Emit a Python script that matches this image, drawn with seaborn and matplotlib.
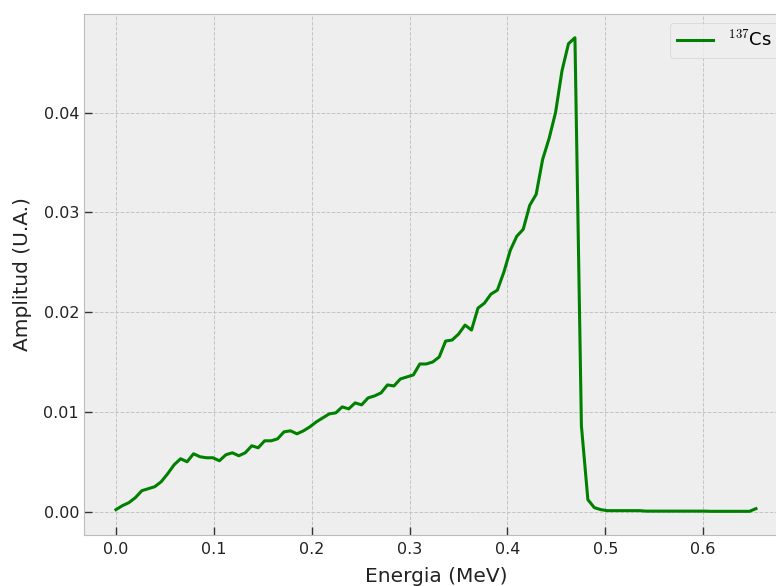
import numpy as np
import matplotlib
matplotlib.use("Agg")
import matplotlib.pyplot as plt
import seaborn as sns

# 100 energy bins from 0 to ~0.654 MeV
energia = np.linspace(0.0, 0.654, 100)

# amplitude (U.A.)
amplitud = [
    0.0002, 0.0006, 0.0009, 0.0014, 0.0021, 0.0023, 0.0025, 0.0030, 0.0038, 0.0047,
    0.0053, 0.0050, 0.0058, 0.0055, 0.0054, 0.0054, 0.0051, 0.0057, 0.0059, 0.0056,
    0.0059, 0.0066, 0.0064, 0.0071, 0.0071, 0.0073, 0.0080, 0.0081, 0.0078, 0.0081,
    0.0085, 0.0090, 0.0094, 0.0098, 0.0099, 0.0105, 0.0103, 0.0109, 0.0107, 0.0114,
    0.0116, 0.0119, 0.0127, 0.0126, 0.0133, 0.0135, 0.0137, 0.0148, 0.0148, 0.0150,
    0.0155, 0.0171, 0.0172, 0.0178, 0.0187, 0.0182, 0.0204, 0.0209, 0.0218, 0.0222,
    0.0240, 0.0262, 0.0276, 0.0283, 0.0307, 0.0318, 0.0353, 0.0374, 0.0400, 0.0442,
    0.0469, 0.0475, 0.0086, 0.0012, 0.0004, 0.0002, 0.0001, 0.0001, 0.0001, 0.0001,
    0.0001, 0.0001, 0.00005, 0.00005, 0.00005, 0.00005, 0.00005, 0.00005, 0.00005, 0.00005,
    0.00005, 0.00005, 0.00003, 0.00003, 0.00003, 0.00003, 0.00003, 0.00003, 0.00003, 0.0003,
]

plt.style.use("bmh")

fig = plt.figure(figsize=(7.76, 5.86), dpi=100)
# axes run slightly past the right edge, like the cropped original
ax = fig.add_axes([0.1082, 0.087, 0.9072, 0.889])

sns.lineplot(x=energia, y=amplitud, color="g", linewidth=2.2,
             label=r"$^{137}$Cs", ax=ax)

ax.set_xlabel("Energia (MeV)", fontsize=14.5, color="#222222", labelpad=7)
ax.set_ylabel("Amplitud (U.A.)", fontsize=14.5, color="#222222", labelpad=8)
ax.tick_params(direction="in", length=6, width=1, color="#333333",
               labelsize=11.5, labelcolor="#222222")
ax.tick_params(axis="x", pad=5)
ax.grid(True, color="#c4c4c4", linestyle="--", linewidth=0.7)
ax.legend(loc="upper right", fontsize=13)

fig.savefig("out.png", dpi=100)
